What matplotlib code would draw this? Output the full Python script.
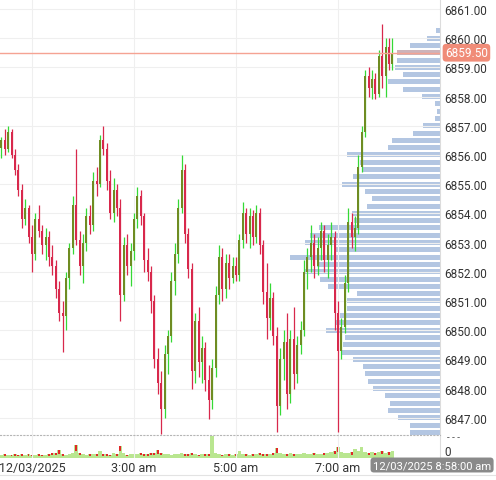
import matplotlib
matplotlib.use("Agg")
import matplotlib.pyplot as plt
import matplotlib.transforms as mtransforms
import numpy as np

plt.rcParams['font.family'] = ['Roboto', 'DejaVu Sans']

# ---------------- data ----------------
opens = [6856.25, 6856.5, 6856.2, 6856.8, 6856.0, 6855.5, 6854.8, 6853.8, 6854.2, 6853.2,
         6852.6, 6853.8, 6853.4, 6852.9, 6853.2, 6852.5, 6852.2, 6851.4, 6850.6, 6850.5,
         6851.8, 6852.8, 6854.3, 6853.1, 6852.2, 6853.0, 6853.9, 6853.6, 6855.1, 6855.0,
         6856.5, 6856.2, 6855.1, 6854.0, 6854.8, 6854.2, 6851.2, 6852.9, 6852.2, 6852.7,
         6853.8, 6854.6, 6853.9, 6852.4, 6852.0, 6851.0, 6849.0, 6848.2, 6847.3, 6849.2,
         6849.8, 6851.7, 6852.6, 6854.2, 6855.5, 6853.3, 6852.1, 6848.6, 6850.3, 6848.9,
         6849.4, 6848.3, 6847.6, 6848.7, 6851.2, 6852.5, 6851.4, 6852.3, 6851.8, 6852.2,
         6851.9, 6853.1, 6854.0, 6853.3, 6853.9, 6853.2, 6854.0, 6852.9, 6851.3, 6850.4,
         6851.1, 6849.8, 6847.4, 6849.0, 6849.6, 6847.8, 6849.7, 6848.5, 6849.5, 6850.0,
         6852.0, 6852.5, 6853.0, 6852.2, 6852.8, 6853.4, 6852.4, 6852.9, 6853.2, 6850.6,
         6849.3, 6850.1, 6851.6, 6853.7, 6853.2, 6853.5, 6855.6, 6856.8, 6858.7, 6858.3,
         6858.6, 6858.1, 6859.4, 6858.7, 6859.7, 6859.1]
highs = [6856.6, 6856.9, 6857.0, 6856.9, 6856.2, 6855.7, 6855.0, 6854.5, 6854.3, 6853.6,
         6854.0, 6854.3, 6853.6, 6853.5, 6853.4, 6852.9, 6852.4, 6851.7, 6851.0, 6852.0,
         6853.0, 6854.6, 6856.2, 6853.4, 6853.3, 6854.2, 6854.3, 6855.4, 6855.6, 6856.7,
         6857.0, 6856.4, 6855.5, 6855.2, 6855.0, 6854.5, 6853.2, 6853.3, 6853.0, 6854.0,
         6854.9, 6854.8, 6854.0, 6852.8, 6852.2, 6851.2, 6849.4, 6848.6, 6849.5, 6850.0,
         6852.0, 6853.0, 6854.5, 6856.0, 6855.7, 6853.5, 6852.3, 6850.6, 6850.8, 6849.8,
         6849.6, 6848.8, 6849.0, 6851.5, 6852.9, 6852.8, 6852.6, 6852.6, 6852.5, 6852.5,
         6853.3, 6854.4, 6854.2, 6854.2, 6854.1, 6854.3, 6854.2, 6853.1, 6852.3, 6851.6,
         6851.3, 6850.1, 6849.4, 6850.0, 6850.6, 6850.0, 6850.8, 6849.8, 6850.3, 6852.4,
         6852.8, 6853.6, 6853.3, 6853.2, 6853.7, 6853.6, 6853.3, 6853.7, 6853.4, 6851.0,
         6850.4, 6851.9, 6854.2, 6854.0, 6853.9, 6856.0, 6857.0, 6858.9, 6859.0, 6858.9,
         6858.8, 6859.6, 6860.5, 6860.0, 6860.0, 6860.0]
lows = [6855.9, 6856.0, 6856.1, 6855.9, 6855.3, 6854.6, 6853.5, 6853.6, 6853.0, 6852.0,
        6852.4, 6853.2, 6852.6, 6852.4, 6852.2, 6851.9, 6851.1, 6850.3, 6849.25, 6850.0,
        6851.4, 6852.6, 6852.9, 6851.9, 6851.6, 6852.7, 6853.3, 6853.4, 6854.6, 6854.9,
        6856.0, 6854.8, 6853.8, 6853.7, 6853.9, 6850.3, 6851.0, 6851.9, 6851.5, 6852.4,
        6853.5, 6853.6, 6852.0, 6851.7, 6850.6, 6848.7, 6847.8, 6846.45, 6847.0, 6848.5,
        6849.6, 6851.2, 6852.3, 6854.0, 6853.0, 6851.8, 6848.0, 6848.2, 6848.4, 6848.2,
        6847.9, 6846.96, 6847.3, 6848.4, 6850.9, 6851.0, 6851.1, 6851.4, 6851.6, 6851.7,
        6851.7, 6852.8, 6853.0, 6852.8, 6852.9, 6853.0, 6852.6, 6850.9, 6849.7, 6850.0,
        6849.5, 6846.5, 6847.1, 6848.3, 6847.3, 6847.5, 6848.0, 6848.2, 6849.2, 6849.8,
        6851.4, 6852.0, 6851.8, 6851.9, 6852.4, 6852.0, 6851.8, 6852.4, 6850.0, 6846.5,
        6849.0, 6849.9, 6851.3, 6852.8, 6852.7, 6853.3, 6855.4, 6856.6, 6858.0, 6857.9,
        6857.9, 6858.0, 6858.3, 6858.0, 6858.9, 6858.9]
closes = [6856.5, 6856.2, 6856.8, 6856.0, 6855.5, 6854.8, 6853.8, 6854.2, 6853.2, 6852.6,
          6853.8, 6853.4, 6852.9, 6853.2, 6852.5, 6852.2, 6851.4, 6850.6, 6850.5, 6851.8,
          6852.8, 6854.3, 6853.1, 6852.2, 6853.0, 6853.9, 6853.6, 6855.1, 6855.0, 6856.5,
          6856.2, 6855.1, 6854.0, 6854.8, 6854.2, 6851.2, 6852.9, 6852.2, 6852.7, 6853.8,
          6854.6, 6853.9, 6852.4, 6852.0, 6851.0, 6849.0, 6848.2, 6847.3, 6849.2, 6849.8,
          6851.7, 6852.6, 6854.2, 6855.5, 6853.3, 6852.1, 6848.6, 6850.3, 6848.9, 6849.4,
          6848.3, 6847.6, 6848.7, 6851.2, 6852.5, 6851.4, 6852.3, 6851.8, 6852.2, 6851.9,
          6853.1, 6854.0, 6853.3, 6853.9, 6853.2, 6854.0, 6852.9, 6851.3, 6850.4, 6851.1,
          6849.8, 6847.4, 6849.0, 6849.6, 6847.8, 6849.7, 6848.5, 6849.5, 6850.0, 6852.0,
          6852.5, 6853.0, 6852.2, 6852.8, 6853.4, 6852.4, 6852.9, 6853.2, 6850.6, 6849.3,
          6850.1, 6851.6, 6853.7, 6853.2, 6853.5, 6855.6, 6856.8, 6858.7, 6858.3, 6858.6,
          6858.1, 6859.4, 6858.7, 6859.7, 6859.1, 6859.5]
volumes = [3, 4, 3, 3, 4, 3, 4, 3, 4, 3,
           3, 4, 3, 3, 4, 5, 5, 8, 4, 3,
           4, 5, 14, 5, 4, 3, 4, 4, 4, 7,
           4, 4, 3, 5, 4, 13, 5, 3, 4, 4,
           4, 5, 4, 4, 5, 5, 8, 5, 4, 4,
           3, 4, 4, 5, 4, 4, 5, 4, 3, 4,
           4, 4, 23, 5, 4, 3, 4, 4, 3, 4,
           7, 4, 4, 3, 4, 4, 5, 4, 4, 4,
           5, 10, 5, 4, 4, 5, 4, 4, 4, 5,
           4, 4, 5, 4, 4, 5, 5, 6, 7, 12,
           6, 5, 5, 6, 9, 7, 12, 6, 5, 6,
           5, 6, 7, 5, 6, 7]

# volume profile (price level -> volume)
profile_prices = [6860.25, 6860.00, 6859.75, 6859.50, 6859.25, 6859.00, 6858.75, 6858.50,
                  6858.25, 6858.00, 6857.75, 6857.50, 6857.25, 6857.00, 6856.75, 6856.50,
                  6856.25, 6856.00, 6855.75, 6855.50, 6855.25, 6855.00, 6854.75, 6854.50,
                  6854.25, 6854.00, 6853.75, 6853.50, 6853.25, 6853.00, 6852.75, 6852.50,
                  6852.25, 6852.00, 6851.75, 6851.50, 6851.25, 6851.00, 6850.75, 6850.50,
                  6850.25, 6850.00, 6849.75, 6849.50, 6849.25, 6849.00, 6848.75, 6848.50,
                  6848.25, 6848.00, 6847.75, 6847.50, 6847.25, 6847.00, 6846.75, 6846.50]
profile_volumes = [4, 13, 30, 43, 43, 45, 37, 52, 37, 18, 5, 3, 5, 17, 27, 48,
                   52, 93, 80, 77, 87, 98, 75, 68, 73, 88, 86, 121, 130, 135, 105, 150,
                   123, 135, 120, 112, 83, 93, 93, 100, 105, 114, 95, 97, 98, 87, 77, 75,
                   72, 67, 55, 50, 52, 42, 30, 30]

current_price = 6859.50
price_ticks = [6847, 6848, 6849, 6850, 6851, 6852, 6853, 6854, 6855, 6856, 6857, 6858,
               6859, 6860, 6861]
time_ticks = [60, 180, 300, 420]          # minutes after midnight
time_labels = ["12/03/2025", "3:00 am", "5:00 am", "7:00 am"]
last_time_label = "12/03/2025 8:58:00 am"

bar_minutes = 4
start_minute = 24
times = start_minute + bar_minutes * np.arange(len(opens))

# ---------------- figure ----------------
W, H = 496, 481
fig = plt.figure(figsize=(W / 100, H / 100), dpi=100)
ax = fig.add_axes([0, 45 / H, 440 / W, 436 / H])
axp = ax.twiny()
axv = fig.add_axes([0, 22 / H, 440 / W, 22 / H])

XMIN, XMAX = 22.4, 540
YMIN, YMAX = 6846.41, 6861.34

TXT = "#333333"
GREEN = "#35d935"
GREEN_BODY = "#6f8c22"
RED = "#d8284c"

# volume profile behind candles
axp.barh(profile_prices, profile_volumes, height=0.17,
         color=["#cdb3ba" if p == current_price else "#b3c6e2" for p in profile_prices],
         linewidth=0)
axp.set_xlim(440, 0)
axp.set_xticks([])
for s in axp.spines.values():
    s.set_visible(False)
ax.set_zorder(axp.get_zorder() + 1)
ax.patch.set_visible(False)

# candles
up = [c >= o for o, c in zip(opens, closes)]
wick_colors = [GREEN if u else RED for u in up]
body_colors = [GREEN_BODY if u else RED for u in up]
ax.vlines(times, lows, highs, colors=wick_colors, linewidth=0.9, zorder=3)
bottoms = [min(o, c) for o, c in zip(opens, closes)]
heights = [max(abs(c - o), 0.05) for o, c in zip(opens, closes)]
ax.bar(times, heights, bottom=bottoms, width=2.4, color=body_colors, linewidth=0, zorder=4)

# current price line
ax.axhline(current_price, color="#f5a393", linewidth=1.0, zorder=5)

ax.set_xlim(XMIN, XMAX)
ax.set_ylim(YMIN, YMAX)
axp.set_ylim(YMIN, YMAX)
ax.set_yticks(price_ticks)
ax.set_yticklabels([f"{p:.2f}" for p in price_ticks])
ax.yaxis.tick_right()
ax.tick_params(axis="y", length=0, pad=3, labelsize=8.5, labelcolor=TXT)
ax.set_xticks(time_ticks)
ax.tick_params(axis="x", length=0, labelbottom=False)
ax.grid(True, color="#efefef", linewidth=0.8, zorder=0)
for k in ["top", "left"]:
    ax.spines[k].set_visible(False)
ax.spines["right"].set_color("#dcdcdc")
ax.spines["bottom"].set_color("#b5b5b5")
ax.spines["bottom"].set_linestyle((0, (1, 2)))
ax.spines["bottom"].set_linewidth(0.8)

# current price label
trans = mtransforms.blended_transform_factory(ax.transAxes, ax.transData)
ax.text(1.0 + 5 / 440, current_price, f"{current_price:.2f}", transform=trans,
        ha="left", va="center", fontsize=8.5, color="white", zorder=10,
        bbox=dict(boxstyle="round,pad=0.2,rounding_size=0.3", fc="#f08c78", ec="none"),
        clip_on=False)

# volume panel
vol_green = "#b9e690"
axv.bar(times, volumes, width=bar_minutes, color=vol_green, linewidth=0)
red_t = [t for t, u in zip(times, up) if not u]
red_v = [v for v, u in zip(volumes, up) if not u]
axv.bar(red_t, [v * 0.45 for v in red_v], bottom=[v * 0.55 for v in red_v], width=2.2,
        color="#e02828", linewidth=0)
axv.set_xlim(XMIN, XMAX)
axv.set_ylim(0, 23)
axv.set_yticks([0])
axv.set_yticklabels(["0"])
axv.yaxis.tick_right()
axv.tick_params(axis="y", length=0, pad=3, labelsize=8.5, labelcolor=TXT)
for lab in axv.get_yticklabels():
    lab.set_verticalalignment("bottom")
axv.set_xticks(time_ticks)
axv.set_xticklabels(time_labels)
axv.tick_params(axis="x", length=0, pad=2, labelsize=9, labelcolor=TXT)
axv.grid(True, axis="x", color="#efefef", linewidth=0.8)
for k in ["top", "left", "bottom"]:
    axv.spines[k].set_visible(False)
axv.spines["right"].set_color("#dcdcdc")

# partially hidden axis label under the price panel
fig.text(447 / W, 1 - 438 / H, "- - -", fontsize=7, color="#555555", ha="left", va="center")

# last time label box
fig.text(373 / W, 1 - 466 / H, last_time_label, fontsize=8.1, color="white", ha="left",
         va="center",
         bbox=dict(boxstyle="round,pad=0.22,rounding_size=0.3", fc="#8a8a8a", ec="none"))

# bottom separator line
fig.add_artist(plt.Line2D([0, 1], [1 - 476 / H, 1 - 476 / H], color="#e3e3e3",
                          linewidth=0.8, transform=fig.transFigure))

fig.savefig("out.png", dpi=100)
